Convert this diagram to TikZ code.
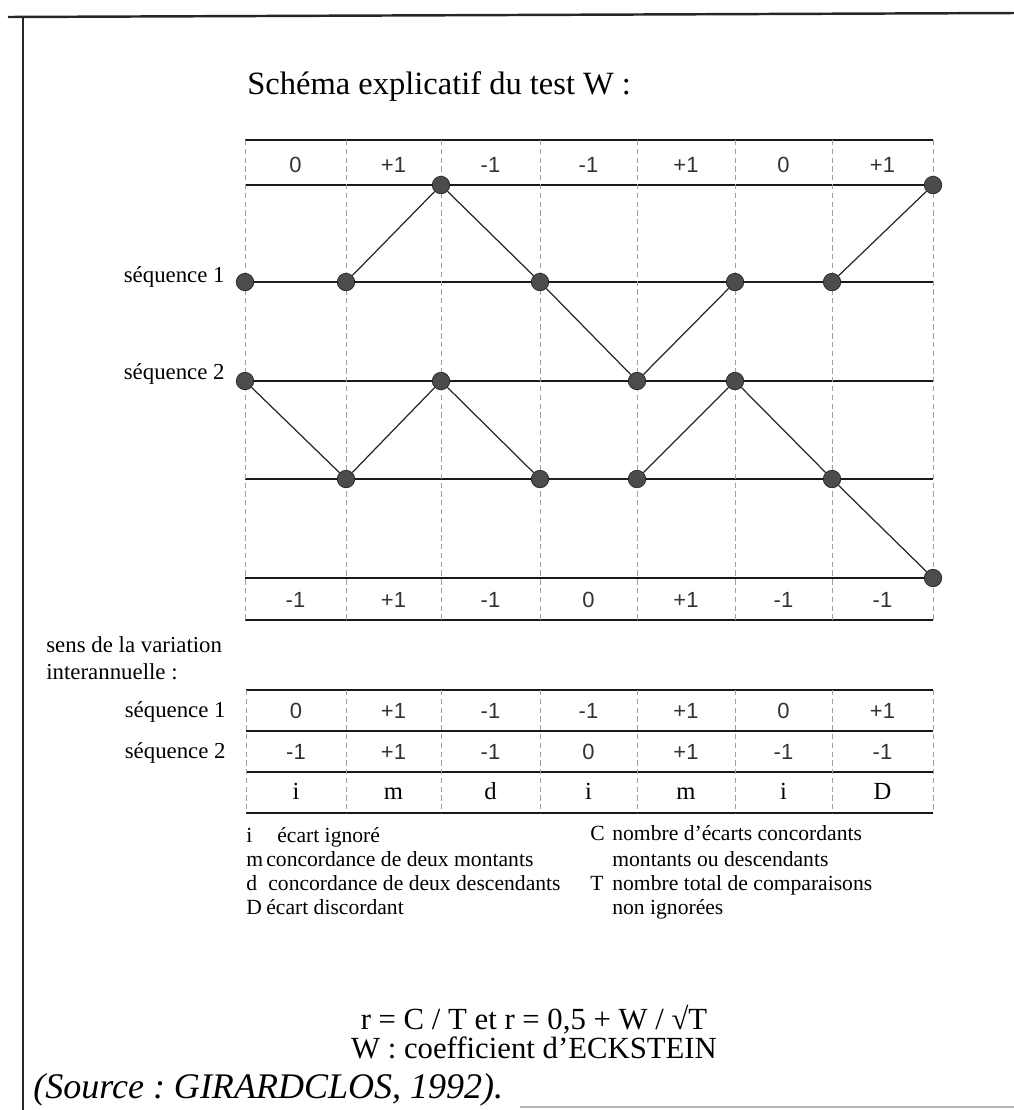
\documentclass[tikz,border=0pt]{standalone}
\usepackage{fontspec}
\setmainfont{Liberation Serif}
\newfontfamily\numfont{Liberation Sans}
\frenchspacing

\tikzset{
  grid line/.style={black!90, line width=0.9pt},
  col line/.style={gray!75, densely dashed, line width=0.5pt},
  yeardot/.style={circle, fill=black!70, draw=black!85, line width=0.4pt, inner sep=0pt, minimum size=0.35cm},
  link/.style={black!85, line width=0.7pt},
  val/.style={font=\numfont\fontsize{12.5}{14}\selectfont, text=black!80, inner sep=0pt},
  code/.style={font=\fontsize{14}{16}\selectfont, inner sep=0pt, anchor=base},
  lab/.style={font=\fontsize{13}{15}\selectfont, inner sep=0pt},
  leg/.style={font=\fontsize{12.3}{14}\selectfont, inner sep=0pt, anchor=base west},
}

\begin{document}
\begin{tikzpicture}[x=0.02cm, y=-0.02cm]
\useasboundingbox (0,0) rectangle (1014,1110);

% Frame of the page
\draw[black!85, line width=1.4pt] (8,17) -- (1014,13);
\draw[black!85, line width=1.4pt] (23,17) -- (23,1110);
\draw[gray!60, line width=1pt] (520,1107) -- (1014,1107);

% Title
\node[font=\fontsize{18.5}{22}\selectfont, anchor=west, inner sep=0pt] (title) at (247,87) {Schéma explicatif du test W :};

% Chart: horizontal levels
\draw[grid line] (245,140) -- (933,140);
\draw[grid line] (245,185) -- (933,185);
\draw[grid line] (245,282) -- (933,282);
\draw[grid line] (245,381) -- (933,381);
\draw[grid line] (245,479) -- (933,479);
\draw[grid line] (245,578) -- (933,578);
\draw[grid line] (245,620) -- (933,620);

% Chart: year columns
\draw[col line] (245,140) -- (245,620);
\draw[col line] (346,140) -- (346,620);
\draw[col line] (441,140) -- (441,620);
\draw[col line] (540,140) -- (540,620);
\draw[col line] (637,140) -- (637,620);
\draw[col line] (735,140) -- (735,620);
\draw[col line] (832,140) -- (832,620);
\draw[col line] (933,140) -- (933,620);

% Variations of sequence 1 (top row)
\node[val] (up1) at (295.5,165) {0};
\node[val] (up2) at (393.5,165) {+1};
\node[val] (up3) at (490.5,165) {-1};
\node[val] (up4) at (588.5,165) {-1};
\node[val] (up5) at (686,165) {+1};
\node[val] (up6) at (783.5,165) {0};
\node[val] (up7) at (882.5,165) {+1};

% Variations of sequence 2 (bottom row)
\node[val] (lo1) at (295.5,600) {-1};
\node[val] (lo2) at (393.5,600) {+1};
\node[val] (lo3) at (490.5,600) {-1};
\node[val] (lo4) at (588.5,600) {0};
\node[val] (lo5) at (686,600) {+1};
\node[val] (lo6) at (783.5,600) {-1};
\node[val] (lo7) at (882.5,600) {-1};

% Sequence labels
\node[lab, anchor=east] (seqA) at (225,277) {séquence 1};
\node[lab, anchor=east] (seqB) at (225,374) {séquence 2};

% Sequence 1 points
\node[yeardot] (a0) at (245,282) {};
\node[yeardot] (a1) at (346,282) {};
\node[yeardot] (a2) at (441,185) {};
\node[yeardot] (a3) at (540,282) {};
\node[yeardot] (a4) at (637,381) {};
\node[yeardot] (a5) at (735,282) {};
\node[yeardot] (a6) at (832,282) {};
\node[yeardot] (a7) at (933,185) {};
\draw[link] (a0) -- (a1) -- (a2) -- (a3) -- (a4) -- (a5) -- (a6) -- (a7);

% Sequence 2 points
\node[yeardot] (b0) at (245,381) {};
\node[yeardot] (b1) at (346,479) {};
\node[yeardot] (b2) at (441,381) {};
\node[yeardot] (b3) at (540,479) {};
\node[yeardot] (b4) at (637,479) {};
\node[yeardot] (b5) at (735,381) {};
\node[yeardot] (b6) at (832,479) {};
\node[yeardot] (b7) at (933,578) {};
\draw[link] (b0) -- (b1) -- (b2) -- (b3) -- (b4) -- (b5) -- (b6) -- (b7);

% Caption of the table
\node[lab, anchor=west] (sens) at (46,645) {sens de la variation};
\node[lab, anchor=west] (inter) at (46,672) {interannuelle :};
\node[lab, anchor=east] (rowA) at (226,712) {séquence 1};
\node[lab, anchor=east] (rowB) at (226,753) {séquence 2};

% Table lines
\draw[grid line] (246,690) -- (933,690);
\draw[grid line] (246,731) -- (933,731);
\draw[grid line] (246,772) -- (933,772);
\draw[grid line] (246,813) -- (933,813);
\draw[col line] (246,690) -- (246,813);
\draw[col line] (346,690) -- (346,813);
\draw[col line] (441,690) -- (441,813);
\draw[col line] (540,690) -- (540,813);
\draw[col line] (637,690) -- (637,813);
\draw[col line] (735,690) -- (735,813);
\draw[col line] (832,690) -- (832,813);
\draw[col line] (933,690) -- (933,813);

% Table: sequence 1
\node[val] (ta1) at (296,710.5) {0};
\node[val] (ta2) at (393.5,710.5) {+1};
\node[val] (ta3) at (490.5,710.5) {-1};
\node[val] (ta4) at (588.5,710.5) {-1};
\node[val] (ta5) at (686,710.5) {+1};
\node[val] (ta6) at (783.5,710.5) {0};
\node[val] (ta7) at (882.5,710.5) {+1};

% Table: sequence 2
\node[val] (tb1) at (296,751.5) {-1};
\node[val] (tb2) at (393.5,751.5) {+1};
\node[val] (tb3) at (490.5,751.5) {-1};
\node[val] (tb4) at (588.5,751.5) {0};
\node[val] (tb5) at (686,751.5) {+1};
\node[val] (tb6) at (783.5,751.5) {-1};
\node[val] (tb7) at (882.5,751.5) {-1};

% Table: comparison codes
\node[code] (tc1) at (296,799) {i};
\node[code] (tc2) at (393.5,799) {m};
\node[code] (tc3) at (490.5,799) {d};
\node[code] (tc4) at (588.5,799) {i};
\node[code] (tc5) at (686,799) {m};
\node[code] (tc6) at (783.5,799) {i};
\node[code] (tc7) at (882.5,799) {D};

% Legend, left column
\node[leg] (ki) at (246,842) {i};
\node[leg] (kit) at (277,842) {écart ignoré};
\node[leg] (km) at (246,866) {m};
\node[leg] (kmt) at (266,866) {concordance de deux montants};
\node[leg] (kd) at (246,890) {d};
\node[leg] (kdt) at (268,890) {concordance de deux descendants};
\node[leg] (kD) at (246,914) {D};
\node[leg] (kDt) at (266,914) {écart discordant};

% Legend, right column
\node[leg] (kC) at (590,840) {C};
\node[leg] (kCt) at (612,840) {nombre d'écarts concordants};
\node[leg] (kCu) at (612,866) {montants ou descendants};
\node[leg] (kT) at (590,890) {T};
\node[leg] (kTt) at (612,890) {nombre total de comparaisons};
\node[leg] (kTu) at (612,914) {non ignorées};

% Formula
\node[font=\fontsize{17.5}{14.5}\selectfont, align=center, inner sep=0pt] (formula) at (534,1032) {r = C / T et r = 0,5 + W / √T\\W : coefficient d'ECKSTEIN};

% Source
\node[font=\itshape\fontsize{20.5}{24}\selectfont, anchor=west, inner sep=0pt] (source) at (33,1090) {(Source : GIRARDCLOS, 1992).};

\end{tikzpicture}
\end{document}
